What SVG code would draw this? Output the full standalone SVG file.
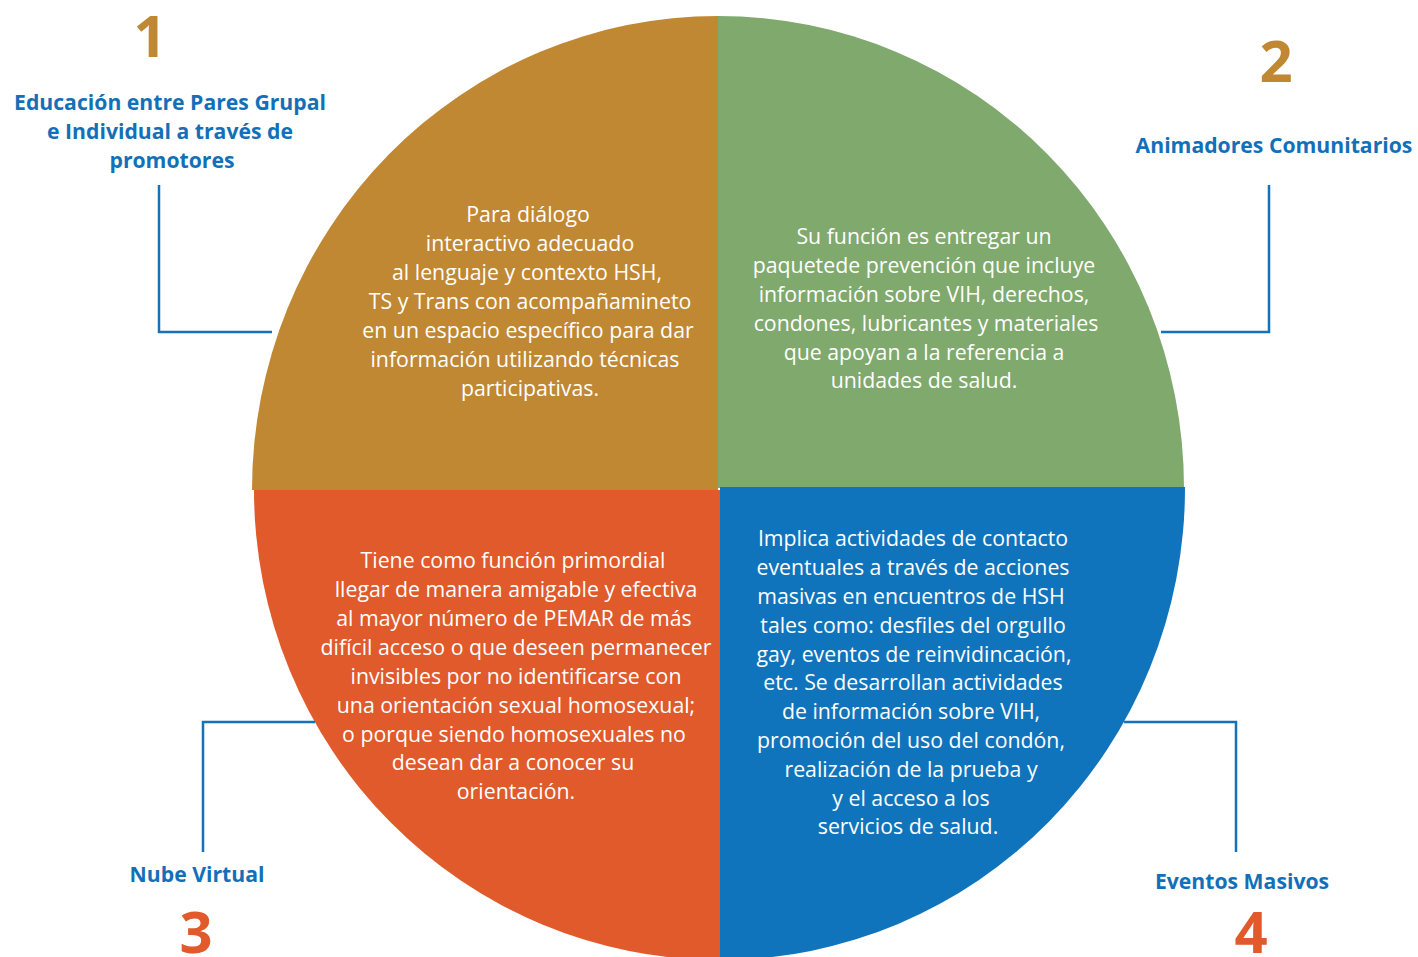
<svg xmlns="http://www.w3.org/2000/svg" width="1418" height="957" viewBox="0 0 1418 957">
<style>
.body{font-family:"Open Sans","Liberation Sans",sans-serif;font-size:21.3px;fill:#ffffff;text-anchor:middle}
.lbl{font-family:"Open Sans","Liberation Sans",sans-serif;font-size:21.2px;font-weight:bold;fill:#1370B8;text-anchor:middle}
.num{font-family:"Open Sans","Liberation Sans",sans-serif;font-size:58px;font-weight:bold;text-anchor:middle}
.con{fill:none;stroke:#1572BA;stroke-width:2.5}
</style>
<rect width="1418" height="957" fill="#ffffff"/>
<g id="q1">
<path d="M718,490 L252,490 A466,474 0 0 1 718,16 Z" fill="#C08833"/>
<text class="body"><tspan x="528" y="222">Para diálogo</tspan><tspan x="530" y="251">interactivo adecuado</tspan><tspan x="527" y="280">al lenguaje y contexto HSH,</tspan><tspan x="530" y="309">TS y Trans con acompañamineto</tspan><tspan x="528" y="338">en un espacio específico para dar</tspan><tspan x="525" y="367">información utilizando técnicas</tspan><tspan x="530" y="396">participativas.</tspan></text>
</g>
<g id="q2">
<path d="M718,488 L718,16 A466,472 0 0 1 1184,488 Z" fill="#7FA96D"/>
<text class="body"><tspan x="924" y="244">Su función es entregar un</tspan><tspan x="924" y="273">paquetede prevención que incluye</tspan><tspan x="924" y="302">información sobre VIH, derechos,</tspan><tspan x="926" y="331">condones, lubricantes y materiales</tspan><tspan x="924" y="360">que apoyan a la referencia a</tspan><tspan x="924" y="388">unidades de salud.</tspan></text>
</g>
<g id="q3">
<path d="M720,490 L720,960 A466,470 0 0 1 254,490 Z" fill="#E05A2B"/>
<text class="body"><tspan x="513" y="568">Tiene como función primordial</tspan><tspan x="516" y="597">llegar de manera amigable y efectiva</tspan><tspan x="514" y="626">al mayor número de PEMAR de más</tspan><tspan x="516" y="655">difícil acceso o que deseen permanecer</tspan><tspan x="516" y="684">invisibles por no identificarse con</tspan><tspan x="516" y="713">una orientación sexual homosexual;</tspan><tspan x="514" y="742">o porque siendo homosexuales no</tspan><tspan x="513" y="770">desean dar a conocer su</tspan><tspan x="516" y="799">orientación.</tspan></text>
</g>
<g id="q4">
<path d="M720,487 L1185,487 A465,472 0 0 1 720,960 Z" fill="#1074BC"/>
<text class="body"><tspan x="913" y="546">Implica actividades de contacto</tspan><tspan x="913" y="575">eventuales a través de acciones</tspan><tspan x="911" y="604">masivas en encuentros de HSH</tspan><tspan x="913" y="633">tales como: desfiles del orgullo</tspan><tspan x="914" y="662">gay, eventos de reinvidincación,</tspan><tspan x="913" y="690">etc. Se desarrollan actividades</tspan><tspan x="911" y="719">de información sobre VIH,</tspan><tspan x="911" y="748">promoción del uso del condón,</tspan><tspan x="911" y="777">realización de la prueba y</tspan><tspan x="911" y="806">y el acceso a los</tspan><tspan x="908" y="834">servicios de salud.</tspan></text>
</g>
<g id="connectors">
<path class="con" d="M159,185 V332 H272"/>
<path class="con" d="M1269,185 V332 H1161"/>
<path class="con" d="M315,722 H203 V852"/>
<path class="con" d="M1124,722 H1236 V852"/>
</g>
<g id="label1">
<text class="num" x="150" y="57" fill="#C08833">1</text>
<text class="lbl"><tspan x="170" y="110">Educación entre Pares Grupal</tspan><tspan x="170" y="139">e Individual a través de</tspan><tspan x="172" y="168">promotores</tspan></text>
</g>
<g id="label2">
<text class="num" x="1276" y="82" fill="#C08833">2</text>
<text class="lbl" x="1274" y="153">Animadores Comunitarios</text>
</g>
<g id="label3">
<text class="lbl" x="197" y="882">Nube Virtual</text>
<text class="num" x="196" y="953" fill="#E05A2B">3</text>
</g>
<g id="label4">
<text class="lbl" x="1242" y="889">Eventos Masivos</text>
<text class="num" x="1251" y="953" fill="#E05A2B">4</text>
</g>
</svg>
